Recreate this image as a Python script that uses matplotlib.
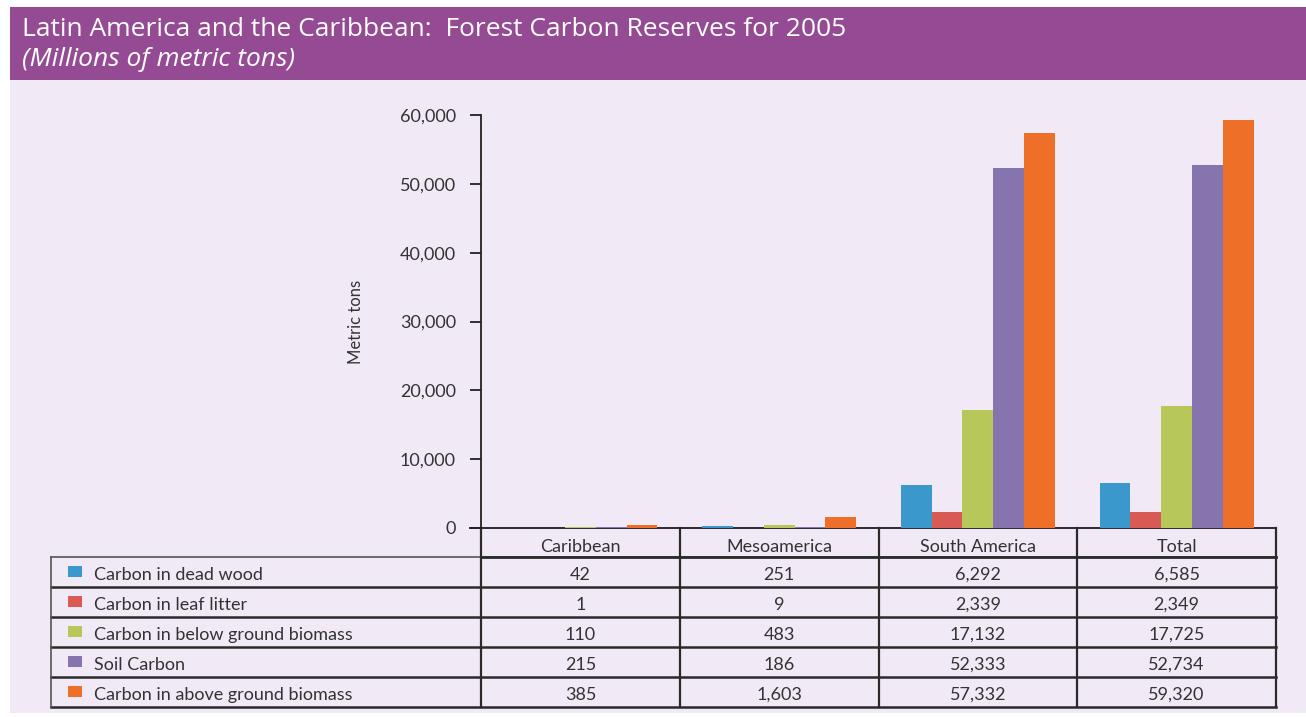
import matplotlib.pyplot as plt
from matplotlib.patches import Rectangle

regions = ["Caribbean", "Mesoamerica", "South America", "Total"]
series = ["Carbon in dead wood", "Carbon in leaf litter",
          "Carbon in below ground biomass", "Soil Carbon",
          "Carbon in above ground biomass"]
dead_wood = [42, 251, 6292, 6585]
leaf_litter = [1, 9, 2339, 2349]
below_ground = [110, 483, 17132, 17725]
soil = [215, 186, 52333, 52734]
above_ground = [385, 1603, 57332, 59320]
values = [dead_wood, leaf_litter, below_ground, soil, above_ground]
yticks = [0, 10000, 20000, 30000, 40000, 50000, 60000]

colors = ["#3a98cc", "#d95a55", "#b8c75a", "#8674ae", "#ee6f27"]
text_col = "#333333"
fs = 13
W, H = 1306, 717

fig = plt.figure(figsize=(W / 100, H / 100), dpi=100)
fig.patch.set_facecolor("white")

# pixel-space overlay for the panel, title bar and table
bg = fig.add_axes([0, 0, 1, 1], zorder=0)
bg.set_xlim(0, W)
bg.set_ylim(H, 0)
bg.axis("off")
bg.add_patch(Rectangle((10, 80), W - 10, 633, color="#f1e9f5", lw=0))
bg.add_patch(Rectangle((10, 7), W - 10, 73, color="#954b93", lw=0))
bg.text(22, 29, "Latin America and the Caribbean:  Forest Carbon Reserves for 2005",
        color="white", fontsize=19, va="center", ha="left", family="Open Sans")
bg.text(22, 60, "(Millions of metric tons)", color="white", fontsize=19,
        style="italic", va="center", ha="left", family="Open Sans")

# bar chart
x0, x1, ytop, yzero = 481, 1276, 115, 528
ax = fig.add_axes([x0 / W, 1 - yzero / H, (x1 - x0) / W, (yzero - ytop) / H], zorder=1)
ax.set_facecolor("none")
bw = 0.155
for i, vals in enumerate(values):
    pos = [g + (i - 2) * bw for g in range(len(regions))]
    ax.bar(pos, vals, width=bw, color=colors[i], edgecolor="none")
ax.set_xlim(-0.5, len(regions) - 0.5)
ax.set_ylim(0, 60000)
ax.set_yticks(yticks)
ax.set_yticklabels([f"{t:,}" for t in yticks], family="Lato", fontsize=fs, color=text_col)
ax.set_xticks([])
for s in ["top", "right", "bottom"]:
    ax.spines[s].set_visible(False)
ax.spines["left"].set_color("#222222")
ax.spines["left"].set_linewidth(1.3)
ax.tick_params(axis="y", length=8, width=1.3, color="#222222", pad=10)
ax.set_ylabel("Metric tons", family="Lato", fontsize=12, color=text_col, labelpad=26)

# data table
col_edges = [x0 + k * (x1 - x0) / len(regions) for k in range(len(regions) + 1)]
row_edges = [557 + 30 * k for k in range(len(series) + 1)]
lc = "#2a2a2a"
bg.plot([470, x1], [yzero, yzero], color=lc, lw=1.4, zorder=3)
bg.plot([x0, x1], [row_edges[0], row_edges[0]], color=lc, lw=2, zorder=3)
for ye in row_edges[1:]:
    bg.plot([51, x1], [ye, ye], color=lc, lw=1.8, zorder=3)
bg.plot([51, x1], [row_edges[0], row_edges[0]], color="#555555", lw=1.2, zorder=2)
bg.plot([51, 51], [row_edges[0], row_edges[-1]], color="#555555", lw=1.2, zorder=3)
for xe in col_edges:
    bg.plot([xe, xe], [yzero, row_edges[-1]], color=lc, lw=1.6, zorder=3)
for k, name in enumerate(regions):
    cx = (col_edges[k] + col_edges[k + 1]) / 2
    bg.text(cx, (yzero + row_edges[0]) / 2 + 4, name, ha="center", va="center",
            family="Lato", fontsize=fs, color=text_col)
for i, name in enumerate(series):
    cy = (row_edges[i] + row_edges[i + 1]) / 2
    bg.add_patch(Rectangle((68, cy - 6), 14, 11, color=colors[i], lw=0))
    bg.text(94, cy + 3, name, ha="left", va="center", family="Lato",
            fontsize=fs, color=text_col)
    for k in range(len(regions)):
        cx = (col_edges[k] + col_edges[k + 1]) / 2
        bg.text(cx, cy + 3, f"{values[i][k]:,}", ha="center", va="center",
                family="Lato", fontsize=fs, color=text_col)

fig.savefig("out.png", dpi=100)
